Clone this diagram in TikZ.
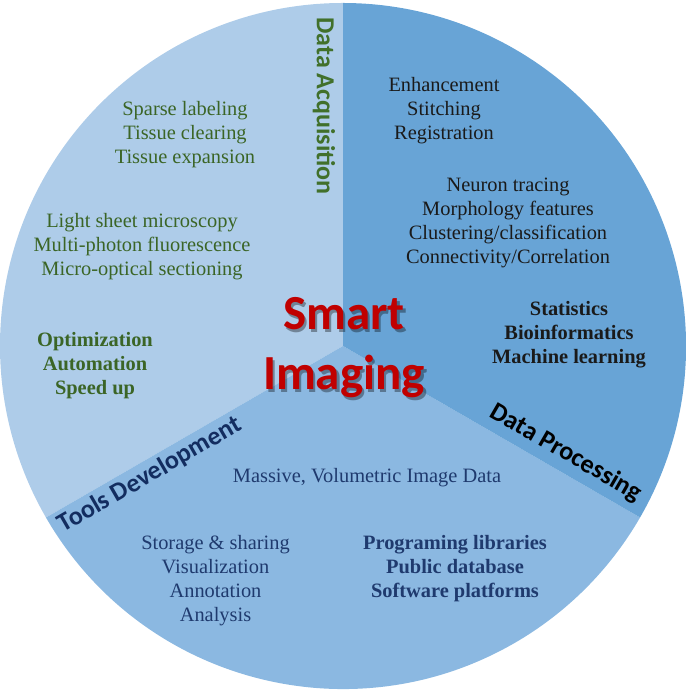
\documentclass[tikz,border=0pt]{standalone}
\usepackage{fontspec}
\setmainfont{Liberation Serif}
\newfontfamily\calib{Carlito}
\definecolor{secA}{HTML}{AECCE9}
\definecolor{secB}{HTML}{68A4D6}
\definecolor{secC}{HTML}{8BB8E1}
\definecolor{grn}{HTML}{3B6526}
\definecolor{grnlab}{HTML}{41702B}
\definecolor{navy}{HTML}{1F3A6E}
\definecolor{navylab}{HTML}{132D60}
\definecolor{blk}{HTML}{1A1A1A}
\definecolor{redt}{HTML}{C00000}
\tikzset{
  body/.style={align=center,inner sep=0pt,anchor=base,font=\fontsize{20.4}{24}\selectfont},
  bodyb/.style={body,font=\fontsize{20.4}{24}\selectfont\bfseries},
  lab/.style={inner sep=0pt,font=\calib\bfseries\fontsize{26}{30}\selectfont},
  big/.style={align=center,inner sep=0pt,anchor=base,font=\calib\bfseries\fontsize{49}{60}\selectfont}
}
\begin{document}
\begin{tikzpicture}[x=1pt,y=1pt]
\useasboundingbox (0,0) rectangle (685,692);
\coordinate (C) at (343,346);
% sectors
\fill[secA] (C) -- ++(90:343) arc[start angle=90,end angle=210,radius=343] -- cycle;
\fill[secC] (C) -- ++(210:343) arc[start angle=210,end angle=330,radius=343] -- cycle;
\fill[secB] (C) -- ++(330:343) arc[start angle=330,end angle=450,radius=343] -- cycle;
% category labels
\node[lab,text=grnlab,rotate=-90] (acq) at (324,586) {Data Acquisition};
\node[lab,text=navylab,rotate=30] (tools) at (150,217) {Tools Development};
\node[lab,text=black,rotate=-30] (proc) at (566,239) {Data Processing};
% data acquisition texts
\node[body,text=grn] (sparse) at (185,528) {Sparse labeling\\Tissue clearing\\Tissue expansion};
\node[body,text=grn] (light) at (142,416) {Light sheet microscopy\\Multi-photon fluorescence\\Micro-optical sectioning};
\node[bodyb,text=grn] (optim) at (95,297) {Optimization\\Automation\\Speed up};
% data processing texts
\node[body,text=blk] (enh) at (444,552) {Enhancement\\Stitching\\Registration};
\node[body,text=blk] (neur) at (508,428) {Neuron tracing\\Morphology features\\Clustering/classification\\Connectivity/Correlation};
\node[bodyb,text=blk] (stat) at (569,328) {Statistics\\Bioinformatics\\Machine learning};
% tools development texts
\node[body,text=navy] (mass) at (367,209) {Massive, Volumetric Image Data};
\node[body,text=navy] (stor) at (215.5,70) {Storage \& sharing\\Visualization\\Annotation\\Analysis};
\node[bodyb,text=navy] (prog) at (455,94) {Programing libraries\\Public database\\Software platforms};
% title
\node[big,text=black,opacity=0.35] (shadow) at (346.5,299.5) {Smart\\Imaging};
\node[big,text=redt] (title) at (344,302) {Smart\\Imaging};
\end{tikzpicture}
\end{document}
